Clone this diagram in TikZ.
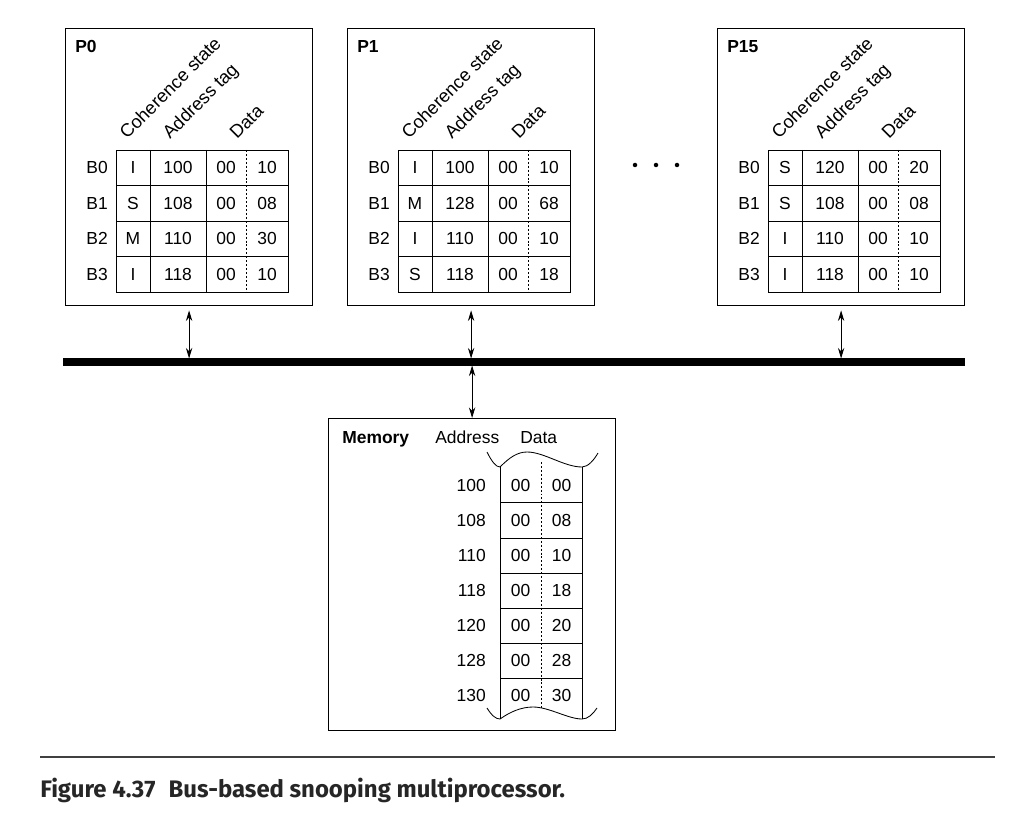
\documentclass[tikz,border=0pt]{standalone}
\usepackage{fontspec}
\setmainfont{Liberation Sans}
\newfontfamily\capfont{Fira Sans}
\usetikzlibrary{shapes,arrows,arrows.meta,positioning,calc}

\newcommand{\figfont}{\fontsize{12.4pt}{14pt}\selectfont}

\begin{document}
\begin{tikzpicture}[
    x=0.025cm, y=-0.025cm,
    procbox/.style={rectangle, draw, line width=0.8pt, inner sep=0pt, minimum width=6.175cm, minimum height=6.925cm},
    membox/.style={rectangle, draw, line width=0.8pt, inner sep=0pt, minimum width=7.175cm, minimum height=7.8cm},
    title/.style={font=\figfont\bfseries, inner sep=0pt},
    head/.style={font=\fontsize{13pt}{15pt}\selectfont, rotate=45, anchor=base west, inner sep=0pt},
    cell/.style={font=\figfont, inner sep=0pt},
    rowlbl/.style={font=\figfont, anchor=east, inner sep=0pt},
    grid/.style={line width=0.6pt},
    divider/.style={line width=0.6pt, dash pattern=on 1.4pt off 1.4pt},
    arrow/.style={<->, >={Stealth[length=7.5pt,width=4.5pt]}, line width=0.6pt},
    bus/.style={line width=5pt}
]
    \useasboundingbox (0,0) rectangle (1024,819);

    % processors with their caches
    \foreach \p/\bx/\rows in {0/65/{I/100/10,S/108/08,M/110/30,I/118/10},
                              1/347/{I/100/10,M/128/68,I/110/10,S/118/18},
                              15/717/{S/120/20,S/108/08,I/110/10,I/118/10}} {
        \begin{scope}[shift={(\bx,28)}]
            \node[procbox, anchor=north west] (p\p) at (0,0) {};
            \node[title, anchor=north west] (p\p name) at (10,12) {P\p};
            \node[head] (p\p coh) at (62,112) {Coherence state};
            \node[head] (p\p tag) at (105,112) {Address tag};
            \node[head] (p\p dat) at (172,112) {Data};
            \foreach [count=\r from 0] \st/\tg/\dt in \rows {
                \node[rowlbl] (p\p b\r) at (43,139.75+35.5*\r) {B\r};
                \node[cell] (p\p s\r) at (68,139.75+35.5*\r) {\st};
                \node[cell] (p\p t\r) at (113,139.75+35.5*\r) {\tg};
                \node[cell] (p\p h\r) at (161,139.75+35.5*\r) {00};
                \node[cell] (p\p l\r) at (202,139.75+35.5*\r) {\dt};
            }
            \draw[grid] (51,122) rectangle (223,264);
            \foreach \y in {157.5,193,228.5} \draw[grid] (51,\y) -- (223,\y);
            \foreach \x in {85,141} \draw[grid] (\x,122) -- (\x,264);
            \draw[divider] (181,122) -- (181,264);
        \end{scope}
    }

    % dots between P1 and P15
    \foreach \x in {635,656,677} \fill (\x,165) circle[radius=1.6pt];

    % bus
    \coordinate (busw) at (63,362);
    \coordinate (buse) at (965,362);
    \draw[bus] (busw) -- (buse);

    % memory
    \begin{scope}[shift={(328,418)}]
        \node[membox, anchor=north west] (mem) at (0,0) {};
        \node[title, anchor=base west] (memname) at (14,25) {Memory};
        \node[cell, anchor=base west] (memaddr) at (107,25) {Address};
        \node[cell, anchor=base west] (memdata) at (192,25) {Data};
        \foreach [count=\r from 0] \ad/\dt in {100/00,108/08,110/10,118/18,120/20,128/28,130/30} {
            \node[rowlbl] (mem a\r) at (158,67+35.1*\r) {\ad};
            \node[cell] (mem h\r) at (192.5,67+35.1*\r) {00};
            \node[cell] (mem l\r) at (233.5,67+35.1*\r) {\dt};
        }
        \draw[grid] (159,34) .. controls (164,44) and (168,49) .. (172,49)
            .. controls (181,40) and (189,34) .. (199,34)
            .. controls (216,34) and (236,49) .. (254,49)
            .. controls (260,49) and (266,42) .. (270,35);
        \draw[grid] (159,290) .. controls (164,298) and (168,301) .. (172,301)
            .. controls (182,294) and (193,289) .. (205,289)
            .. controls (221,289) and (240,301) .. (254,301)
            .. controls (260,301) and (265,296) .. (269,290);
        \draw[grid] (172,49) -- (172,301);
        \draw[grid] (254,49) -- (254,301);
        \foreach \y in {84,120,155,190,225,260} \draw[grid] (172,\y) -- (254,\y);
        \draw[divider] (213,44) -- (213,291);
    \end{scope}

    % connections to the bus
    \foreach \p in {0,1,15}
        \draw[arrow, shorten <=3pt, shorten >=2.5pt] (p\p.south) -- (p\p.south |- busw);
    \draw[arrow, shorten <=2.5pt] (mem.north |- busw) -- (mem.north);

    % caption
    \draw[line width=1.3pt, black!75] (40,757) -- (995,757);
    \node[anchor=base west, inner sep=0pt, font=\capfont\fontsize{17pt}{20pt}\selectfont\bfseries, black!85] (caption) at (40,797)
        {Figure 4.37\hspace{0.55em}Bus-based snooping multiprocessor.};
\end{tikzpicture}
\end{document}
